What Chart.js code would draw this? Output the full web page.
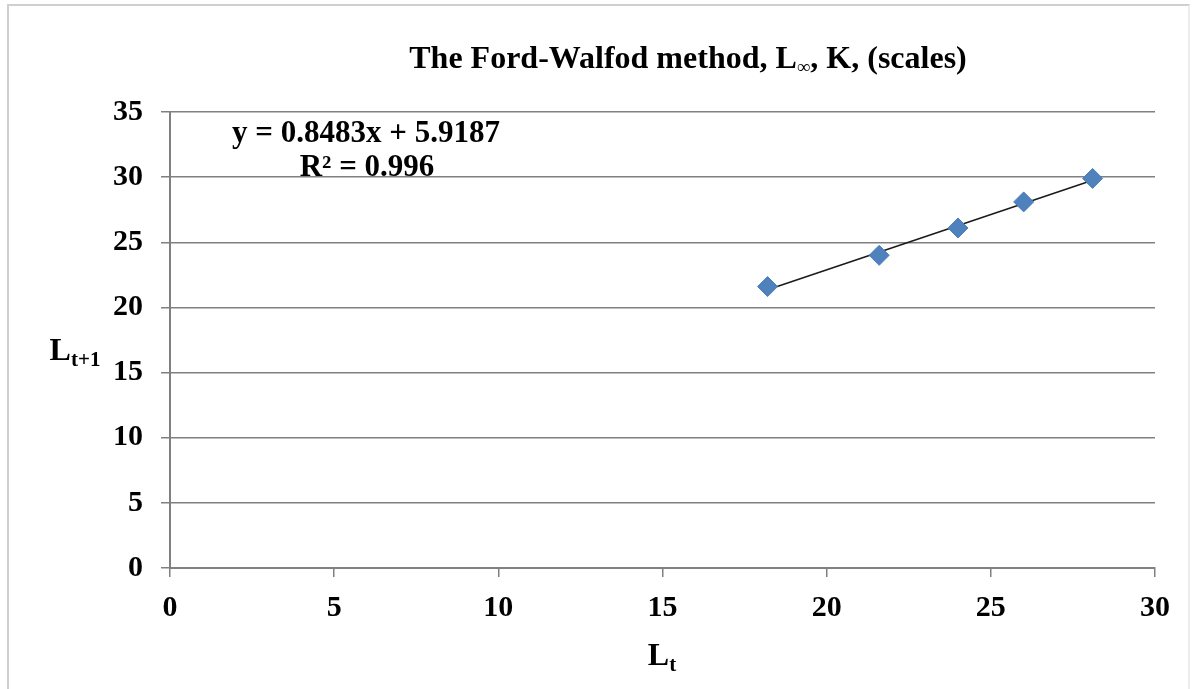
<!DOCTYPE html>
<html>
<head>
<meta charset="utf-8">
<script src="https://cdn.jsdelivr.net/npm/chart.js@4"></script>
<style>
  html, body { margin: 0; padding: 0; background: #fff; }
  #wrap { position: relative; width: 1198px; height: 689px; overflow: hidden; }
  #frame { position: absolute; left: 7px; top: 4px; width: 1183px; height: 700px;
           border: 2px solid #cfcfcf; border-right-color: #ececec; box-sizing: border-box; }
  canvas { position: absolute; left: 0; top: 0; }
</style>
</head>
<body>
<div id="wrap">
  <div id="frame"></div>
  <canvas id="chart" width="1198" height="689"></canvas>
</div>
<script>
const lengthT = [18.2, 21.6, 24.0, 26.0, 28.1];
const lengthT1 = [21.6, 24.0, 26.1, 28.1, 29.9];
const trendX = [18.2, 28.1];
const trendY = [21.36, 29.76];
const xTicks = [0, 5, 10, 15, 20, 25, 30];
const yTicks = [0, 5, 10, 15, 20, 25, 30, 35];

const serif = '"Liberation Serif", "Times New Roman", serif';

function toPoints(xs, ys) {
  return xs.map((x, i) => ({ x: x, y: ys[i] }));
}

// draws a row of text pieces, some of them subscripted
function drawParts(ctx, parts, cx, y) {
  let total = 0;
  parts.forEach((p) => {
    ctx.font = `${p.italic ? "italic " : ""}bold ${p.size}px ${serif}`;
    p.w = ctx.measureText(p.text).width;
    total += p.w;
  });
  let x = cx - total / 2;
  parts.forEach((p) => {
    ctx.font = `${p.italic ? "italic " : ""}bold ${p.size}px ${serif}`;
    ctx.fillText(p.text, x, y + (p.dy || 0));
    x += p.w;
  });
}

const textPlugin = {
  id: "texts",
  afterDraw(chart) {
    const ctx = chart.ctx;
    ctx.save();
    ctx.fillStyle = "#000";
    ctx.textBaseline = "alphabetic";
    ctx.textAlign = "left";
    drawParts(ctx, [
      { text: "The Ford-Walfod method, L", size: 32 },
      { text: "∞", size: 19, dy: 5, italic: true },
      { text: ", K, (scales)", size: 32 },
    ], 688, 68);
    drawParts(ctx, [{ text: "y = 0.8483x + 5.9187", size: 31 }], 366, 142);
    drawParts(ctx, [{ text: "R² = 0.996", size: 31 }], 367, 176);
    drawParts(ctx, [
      { text: "L", size: 32 },
      { text: "t", size: 21, dy: 6 },
    ], 662, 665);
    drawParts(ctx, [
      { text: "L", size: 32 },
      { text: "t+1", size: 21, dy: 6 },
    ], 75, 360);
    ctx.restore();
  },
};

const ctx = document.getElementById("chart").getContext("2d");
new Chart(ctx, {
  type: "scatter",
  data: {
    datasets: [
      {
        label: "Lt+1",
        data: toPoints(lengthT, lengthT1),
        pointStyle: "rectRot",
        pointRadius: 10,
        pointBackgroundColor: "#4F81BD",
        pointBorderColor: "#4A7EBB",
        pointBorderWidth: 1,
        order: 1,
      },
      {
        label: "Linear",
        type: "line",
        data: toPoints(trendX, trendY),
        borderColor: "#1a1a1a",
        borderWidth: 1.5,
        pointRadius: 0,
        fill: false,
        order: 2,
      },
    ],
  },
  options: {
    responsive: false,
    animation: false,
    layout: { padding: { left: 0, right: 43, top: 112, bottom: 0 } },
    plugins: {
      legend: { display: false },
      title: { display: false },
      tooltip: { enabled: false },
    },
    scales: {
      x: {
        type: "linear",
        min: 0,
        max: 30,
        afterFit: (scale) => { scale.height = 121; },
        afterBuildTicks: (scale) => { scale.ticks = xTicks.map((v) => ({ value: v })); },
        border: { display: true, color: "#808080", width: 2 },
        grid: { drawOnChartArea: false, drawTicks: true, tickLength: 9, color: "#808080", lineWidth: 1.5 },
        ticks: { color: "#000", padding: 13, font: { family: serif, size: 30, weight: "bold" } },
      },
      y: {
        type: "linear",
        min: 0,
        max: 35,
        afterFit: (scale) => { scale.width = 170; },
        afterBuildTicks: (scale) => { scale.ticks = yTicks.map((v) => ({ value: v })); },
        border: { display: true, color: "#808080", width: 2 },
        grid: { drawOnChartArea: true, drawTicks: true, tickLength: 9, color: "#808080", lineWidth: 1.5 },
        ticks: { color: "#000", padding: 18, font: { family: serif, size: 30, weight: "bold" } },
      },
    },
  },
  plugins: [textPlugin],
});
</script>
</body>
</html>
